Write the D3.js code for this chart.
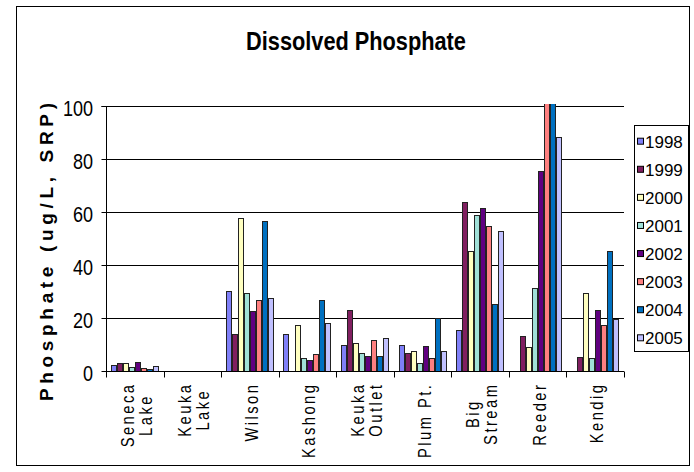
<!DOCTYPE html>
<html>
<head>
<meta charset="utf-8">
<script src="https://cdn.jsdelivr.net/npm/d3@7"></script>
<style>
  html, body { margin: 0; padding: 0; background: #fff; }
  svg { display: block; font-family: "Liberation Sans", Arial, sans-serif; }
</style>
</head>
<body>
<svg id="chart" width="694" height="472"></svg>
<script>
// ---- data ----
const categories = [["Seneca", "Lake"], ["Keuka", "Lake"], ["Wilson"], ["Kashong"], ["Keuka", "Outlet"], ["Plum Pt."], ["Big", "Stream"], ["Reeder"], ["Kendig"]];
const years = ["1998", "1999", "2000", "2001", "2002", "2003", "2004", "2005"];
const v1998 = [2.3, null, 30.2, 13.8, 9.8, 9.8, 15.5, null, null];
const v1999 = [3.1, null, 13.8, null, 23.1, 6.7, 63.8, 13.2, 5.3];
const v2000 = [3.1, null, 57.7, 17.4, 10.6, 7.7, 45.2, 9.2, 29.3];
const v2001 = [1.6, null, 29.3, 4.8, 6.7, 3.1, 59.0, 31.4, 4.8];
const v2002 = [3.5, null, 22.6, 4.1, 5.7, 9.3, 61.6, 75.5, 22.9];
const v2003 = [1.2, null, 26.7, 6.3, 11.6, 4.9, 54.6, 110, 17.2];
const v2004 = [0.8, null, 56.6, 26.7, 5.7, 19.9, 25.2, 115, 45.2];
const v2005 = [1.8, null, 27.4, 18.2, 12.5, 7.7, 52.8, 88.2, 19.7];
const seriesValues = [v1998, v1999, v2000, v2001, v2002, v2003, v2004, v2005];
const yTicks = [0, 20, 40, 60, 80, 100];
const colors = ["#8080F8", "#801F60", "#FFFFC0", "#A0E0D8", "#600080", "#FF8080", "#0070C0", "#C0C0FF"];
const title = "Dissolved Phosphate";
const yTitle = "Phosphate (ug/L, SRP)";

// ---- layout ----
const svg = d3.select("#chart");
const plot = { left: 106, right: 624, top: 106, bottom: 371 };

// outer frame
svg.append("rect").attr("x", 16.5).attr("y", 6.5).attr("width", 673).attr("height", 459)
  .attr("fill", "#fff").attr("stroke", "#000").attr("stroke-width", 1);

const catKeys = categories.map(c => c.join(" "));
const x0 = d3.scaleBand().domain(catKeys).range([plot.left, plot.right]).paddingInner(0).paddingOuter(0);
const x1 = d3.scaleBand().domain(years).range([0, x0.bandwidth()]).paddingInner(0).paddingOuter(0.8);
const y = d3.scaleLinear().domain([0, 100]).range([plot.bottom, plot.top]);

// gridlines
svg.append("g").selectAll("line").data(yTicks.filter(d => d > 0)).join("line")
  .attr("x1", plot.left).attr("x2", plot.right)
  .attr("y1", d => Math.round(y(d)) + 0.5).attr("y2", d => Math.round(y(d)) + 0.5)
  .attr("stroke", "#000").attr("stroke-width", 1);

// clip
svg.append("clipPath").attr("id", "pclip").append("rect")
  .attr("x", plot.left).attr("y", plot.top - 2).attr("width", plot.right - plot.left).attr("height", plot.bottom - plot.top + 2);

// bars
const barG = svg.append("g").attr("clip-path", "url(#pclip)");
years.forEach((yr, si) => {
  const vals = seriesValues[si];
  barG.append("g").selectAll("rect")
    .data(vals.map((v, i) => ({ v, cat: catKeys[i] })).filter(d => d.v != null))
    .join("rect")
    .attr("x", d => Math.round(x0(d.cat) + x1(yr)) + 0.5)
    .attr("y", d => Math.round(y(d.v)) + 0.5)
    .attr("width", Math.round(x1.bandwidth()) - 1)
    .attr("height", d => Math.max(0, Math.round(y(0)) - Math.round(y(d.v))))
    .attr("fill", colors[si])
    .attr("stroke", "#222").attr("stroke-width", 1);
});

// y axis
const yAxis = d3.axisLeft(y).tickValues(yTicks).tickSize(5).tickFormat("");
const yg = svg.append("g").attr("transform", `translate(${plot.left + 0.5},0.5)`).call(yAxis);
yg.selectAll("path.domain").attr("d", `M-5,${Math.round(plot.top)}H0V${Math.round(plot.bottom)}`);
yg.selectAll(".tick").attr("transform", d => `translate(0,${Math.round(y(d))})`);
yg.selectAll("line, path").attr("stroke", "#000");

// y tick labels
svg.append("g").selectAll("text").data(yTicks).join("text")
  .attr("transform", d => `translate(93,${Math.round(y(d)) + 10}) scale(0.82,1)`)
  .attr("text-anchor", "end").attr("font-size", 22).attr("fill", "#000")
  .text(d => d);

// x axis
const xAxis = d3.axisBottom(x0).tickSize(0).tickFormat("");
const xg = svg.append("g").attr("transform", `translate(0,${plot.bottom + 0.5})`).call(xAxis);
xg.select("path.domain").attr("stroke", "#000").attr("d", `M${plot.left},0H${plot.right}`);
const bounds = catKeys.map(k => x0(k)).concat([plot.right]);
xg.append("g").selectAll("line").data(bounds).join("line")
  .attr("x1", d => Math.round(d) + 0.5).attr("x2", d => Math.round(d) + 0.5)
  .attr("y1", 0).attr("y2", 6).attr("stroke", "#000");

// x labels
const lblTop = 385;
const lineGap = 18.3;
const ls = 3.0;
categories.forEach((lines, i) => {
  const cx = x0(catKeys[i]) + x0.bandwidth() / 2;
  const g = svg.append("g");
  const texts = lines.map((ln) => g.append("text")
      .attr("font-size", 18).attr("letter-spacing", ls).attr("fill", "#000")
      .attr("text-anchor", "start")
      .text(ln));
  const lens = texts.map(t => (t.node().getComputedTextLength() - ls) * 0.82);
  const maxLen = d3.max(lens);
  const n = lines.length;
  texts.forEach((t, j) => {
    const bx = cx + 8 + (j - (n - 1) / 2) * lineGap;
    const startY = lblTop + maxLen / 2 + lens[j] / 2;
    t.attr("transform", `translate(${bx},${startY}) rotate(-90) scale(0.82,1)`);
  });
});

// title
svg.append("text").attr("transform", "translate(356,50) scale(0.87,1)")
  .attr("text-anchor", "middle").attr("font-size", 25).attr("font-weight", "bold")
  .attr("fill", "#000").text(title);

// y title
svg.append("text").attr("transform", "translate(53,252) rotate(-90)")
  .attr("text-anchor", "middle").attr("font-size", 19).attr("font-weight", "bold")
  .attr("textLength", 298).attr("lengthAdjust", "spacing")
  .attr("fill", "#000").text(yTitle);

// legend
const lg = svg.append("g");
lg.append("rect").attr("x", 634.5).attr("y", 125.5).attr("width", 54).attr("height", 226)
  .attr("fill", "#fff").attr("stroke", "#000");
const ly = d3.scalePoint().domain(years).range([141.7, 338.3]);
const items = lg.selectAll("g.item").data(years).join("g").attr("class", "item")
  .attr("transform", d => `translate(0,${ly(d)})`);
items.append("rect").attr("x", 637.5).attr("y", -3.5).attr("width", 6).attr("height", 6)
  .attr("fill", (d, i) => colors[i]).attr("stroke", "#000");
items.append("text").attr("transform", "translate(645,6)")
  .attr("font-size", 17).attr("fill", "#000").text(d => d);
</script>
</body>
</html>
